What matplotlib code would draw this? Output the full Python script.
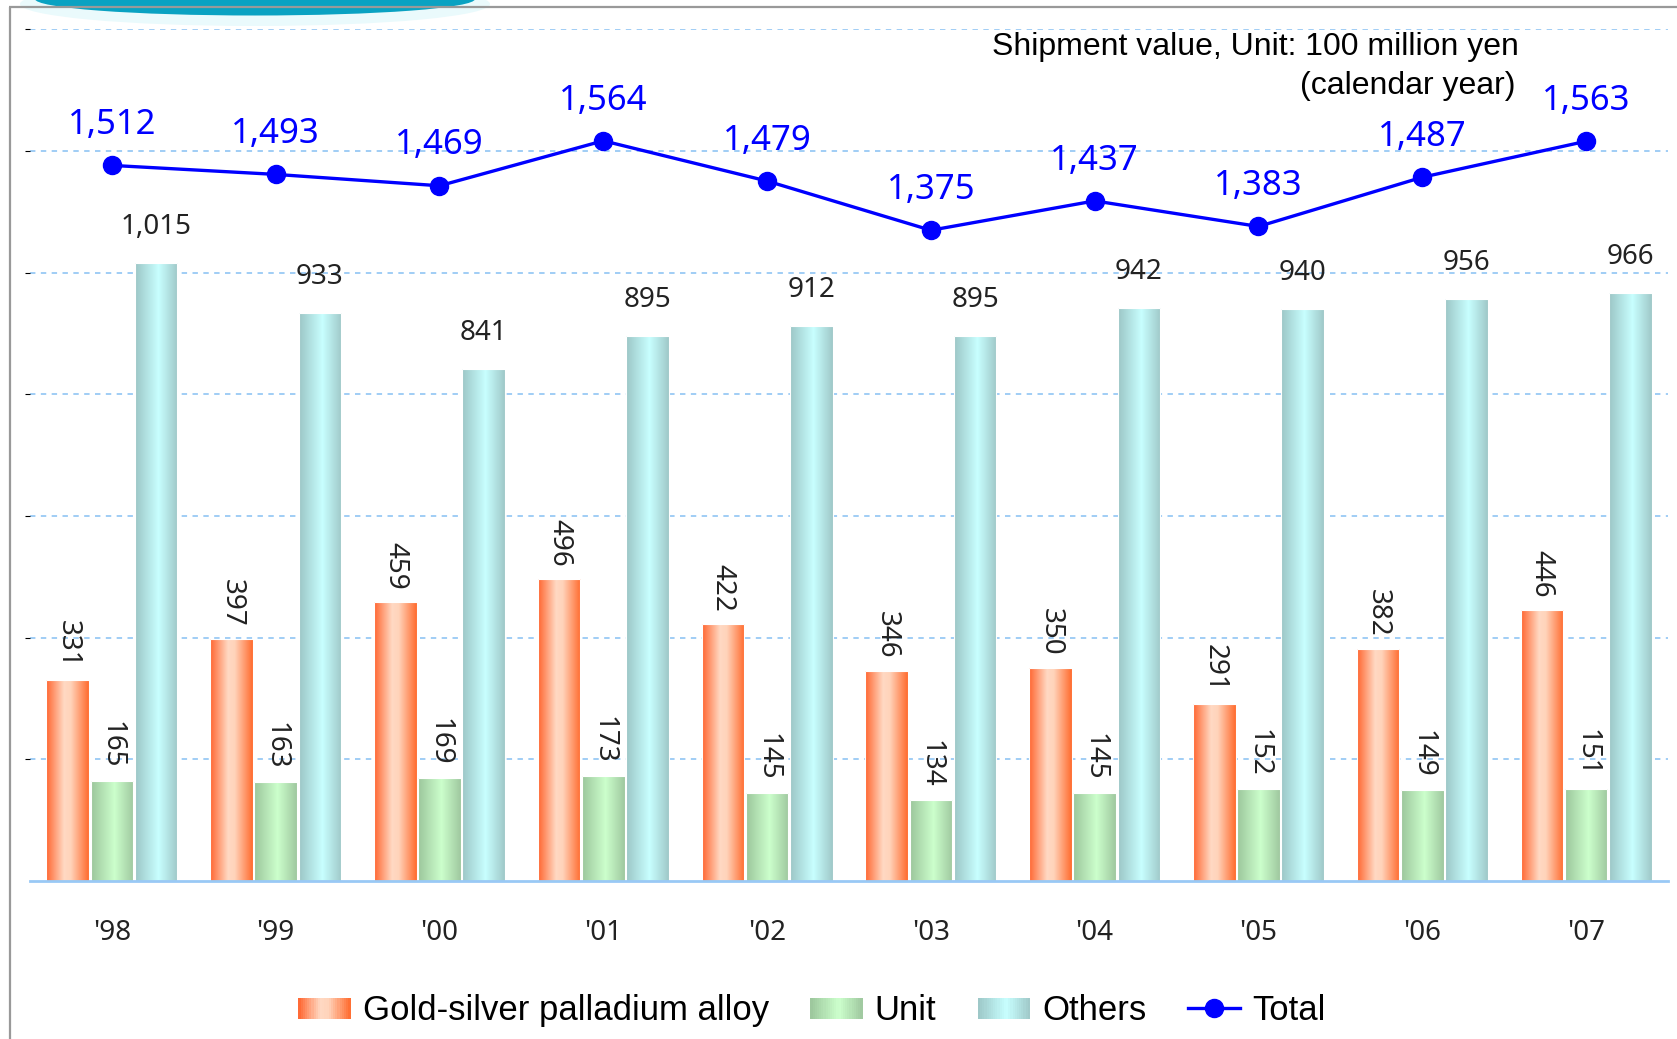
import numpy as np
import matplotlib
matplotlib.use('Agg')
import matplotlib.pyplot as plt
from matplotlib.colors import LinearSegmentedColormap
from matplotlib.patches import Rectangle, Ellipse
from matplotlib.lines import Line2D
from matplotlib.legend_handler import HandlerBase

years = ["'98", "'99", "'00", "'01", "'02", "'03", "'04", "'05", "'06", "'07"]
gold_alloy = [331, 397, 459, 496, 422, 346, 350, 291, 382, 446]
unit = [165, 163, 169, 173, 145, 134, 145, 152, 149, 151]
others = [1015, 933, 841, 895, 912, 895, 942, 940, 956, 966]
total = [1512, 1493, 1469, 1564, 1479, 1375, 1437, 1383, 1487, 1563]

LABEL_FONT = 'Noto Sans'
TEXT_FONT = 'Liberation Sans'

# horizontal shading for each bar series: edge -> light centre -> edge
grad_gold = LinearSegmentedColormap.from_list(
    'gold', [(0, '#FF6630'), (0.42, '#FFD9C3'), (0.58, '#FFD3BA'), (1, '#FF6B2E')])
grad_unit = LinearSegmentedColormap.from_list(
    'unit', [(0, '#9CC69C'), (0.55, '#CCFFCC'), (1, '#9FC89F')])
grad_others = LinearSegmentedColormap.from_list(
    'others', [(0, '#9CC6C6'), (0.55, '#C8FFFF'), (1, '#9FC8C8')])

strip = np.linspace(0, 1, 128).reshape(1, -1)


def shade_bars(ax, bars, cmap):
    for b in bars:
        x0, w, h = b.get_x(), b.get_width(), b.get_height()
        im = ax.imshow(strip, cmap=cmap, aspect='auto', interpolation='bilinear',
                       extent=[x0, x0 + w, 0, h], zorder=2)
        im.set_clip_path(b)


class GradientHandler(HandlerBase):
    def __init__(self, cmap):
        super().__init__()
        self.cmap = cmap

    def create_artists(self, legend, orig_handle, xdescent, ydescent,
                       width, height, fontsize, trans):
        n = 24
        h = height * 0.85
        y0 = -ydescent + (height - h) / 2
        arts = []
        for i in range(n):
            r = Rectangle((-xdescent + width * i / n, y0), width / n * 1.05, h,
                          facecolor=self.cmap((i + 0.5) / n), edgecolor='none',
                          transform=trans)
            arts.append(r)
        return arts


fig = plt.figure(figsize=(16.77, 10.39), dpi=100)

# page frame and header ornament
deco = fig.add_axes([0, 0, 1, 1], zorder=-5)
deco.set_xlim(0, 1677)
deco.set_ylim(1039, 0)
deco.axis('off')
deco.add_patch(Ellipse((255, 4), 470, 44, facecolor='#EAFAFC', edgecolor='none'))
deco.add_patch(Ellipse((255, -1), 440, 33, facecolor='#0AA2C2', edgecolor='none'))
deco.plot([9, 1677], [7, 7], color='#999999', lw=1.6, solid_capstyle='butt')
deco.plot([10, 10], [7, 1039], color='#999999', lw=1.6, solid_capstyle='butt')

ax = fig.add_axes([0.0179, 0.152, 0.9767, 0.820])
x = np.arange(len(years))
off = 0.27
bw = 0.26

b_gold = ax.bar(x - off, gold_alloy, bw, facecolor='none', edgecolor='white', lw=0.8, zorder=3)
b_unit = ax.bar(x, unit, bw, facecolor='none', edgecolor='white', lw=0.8, zorder=3)
b_oth = ax.bar(x + off, others, bw, facecolor='none', edgecolor='white', lw=0.8, zorder=3)
shade_bars(ax, b_gold, grad_gold)
shade_bars(ax, b_unit, grad_unit)
shade_bars(ax, b_oth, grad_others)

ax.set_xlim(-0.5, 9.5)
ax.set_ylim(0, 1400)
ax.set_yticks(np.arange(200, 1401, 200))
ax.yaxis.grid(True, color='#99C9F5', linestyle=(0, (3, 3)), lw=1.3, zorder=0)
ax.set_axisbelow(True)
ax.tick_params(axis='y', left=False, labelleft=False)
ax.set_xticks(x)
ax.set_xticklabels(years, fontsize=20, family=LABEL_FONT, color='#222222')
ax.tick_params(axis='x', bottom=False, pad=24)
for s in ['left', 'right', 'top']:
    ax.spines[s].set_visible(False)
ax.spines['bottom'].set_color('#99C9F5')
ax.spines['bottom'].set_linewidth(2)
ax.spines['bottom'].set_zorder(4)

for xi, v in zip(x - off, gold_alloy):
    ax.annotate(f'{v:,}', (xi, v), xytext=(0, 26), textcoords='offset points',
                rotation=-90, ha='center', va='center', fontsize=20,
                family=LABEL_FONT, color='#222222')
for xi, v in zip(x, unit):
    ax.annotate(f'{v:,}', (xi, v), xytext=(0, 26), textcoords='offset points',
                rotation=-90, ha='center', va='center', fontsize=20,
                family=LABEL_FONT, color='#222222')
for xi, v in zip(x + off, others):
    ax.annotate(f'{v:,}', (xi, v), xytext=(0, 26), textcoords='offset points',
                ha='center', va='center', fontsize=20,
                family=LABEL_FONT, color='#222222')

# total on its own hidden scale
ax2 = ax.twinx()
ax2.set_ylim(0, 1800)
ax2.axis('off')
ax2.plot(x, total, color='#0000FF', lw=2.4, marker='o', markersize=13, zorder=5)
for xi, v in zip(x, total):
    ax2.annotate(f'{v:,}', (xi, v), xytext=(0, 29), textcoords='offset points',
                 ha='center', va='center', fontsize=25,
                 family=LABEL_FONT, color='#0000FF')

fig.text(1519 / 1677, 1 - 47 / 1039, 'Shipment value, Unit: 100 million yen',
         ha='right', va='center', fontsize=23, family=TEXT_FONT, color='black')
fig.text(1515 / 1677, 1 - 86 / 1039, '(calendar year)',
         ha='right', va='center', fontsize=23, family=TEXT_FONT, color='black')

h_gold = Rectangle((0, 0), 1, 1)
h_unit = Rectangle((0, 0), 1, 1)
h_oth = Rectangle((0, 0), 1, 1)
h_tot = Line2D([], [], color='#0000FF', lw=2.4, marker='o', markersize=13)
fig.legend([h_gold, h_unit, h_oth, h_tot],
           ['Gold-silver palladium alloy', 'Unit', 'Others', 'Total'],
           handler_map={h_gold: GradientHandler(grad_gold),
                        h_unit: GradientHandler(grad_unit),
                        h_oth: GradientHandler(grad_others)},
           loc='center', bbox_to_anchor=(812 / 1677, 0.027), ncol=4,
           frameon=False, prop={'family': TEXT_FONT, 'size': 25},
           handlelength=1.5, handletextpad=0.35, columnspacing=1.2,
           borderpad=0, borderaxespad=0)

fig.savefig('out.png', dpi=100)
